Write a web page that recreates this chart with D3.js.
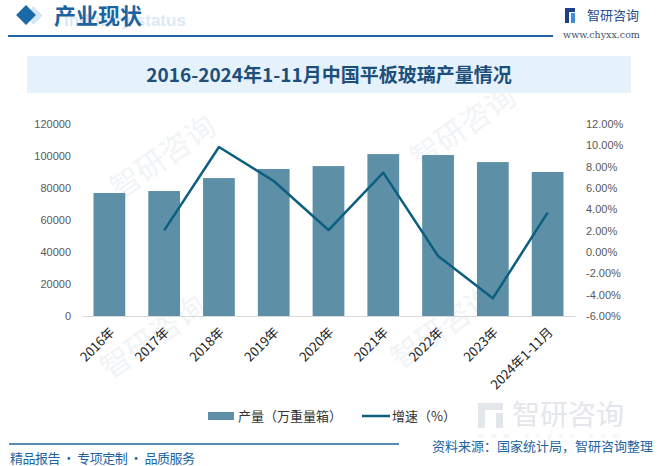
<!DOCTYPE html>
<html>
<head>
<meta charset="utf-8">
<script src="https://cdn.jsdelivr.net/npm/d3@7/dist/d3.min.js"></script>
<style>
  html, body { margin: 0; padding: 0; background: #fff; }
  svg { display: block; }
</style>
</head>
<body>
<script>
// chart data
var years = ["2016年", "2017年", "2018年", "2019年", "2020年", "2021年", "2022年", "2023年", "2024年1-11月"];
var output = [76900, 78100, 86200, 91900, 93700, 101200, 100600, 96200, 90000];   // 万重量箱
var growth = [null, 2.03, 9.84, 6.66, 2.06, 7.44, -0.38, -4.34, 3.69];            // %
var leftTicks = [0, 20000, 40000, 60000, 80000, 100000, 120000];
var rightTicks = [-6, -4, -2, 0, 2, 4, 6, 8, 10, 12];

var W = 662, H = 466;
var blue = "#1f64a0", barColor = "#5d90a7", lineColor = "#0d5f80";
var cjk = "'Noto Sans CJK SC', 'Liberation Sans', sans-serif";
var num = "'Liberation Sans', 'Noto Sans CJK SC', sans-serif";

var svg = d3.select("body").append("svg").attr("width", W).attr("height", H);

// faint watermarks
var wm = svg.append("g").attr("fill", "#f1f4f7").attr("font-family", cjk).attr("font-size", 30);
[[120, 200], [420, 170], [110, 380], [400, 370]].forEach(function(p) {
  wm.append("text").attr("transform", "translate(" + p[0] + "," + p[1] + ") rotate(-35)").text("智研咨询");
});

// header
svg.append("rect").attr("x", 27).attr("y", 9).attr("width", 13).attr("height", 13)
  .attr("transform", "rotate(45,33.5,15.5)").attr("fill", "#d6e6f4");
svg.append("rect").attr("x", 19).attr("y", 8).attr("width", 14).attr("height", 14)
  .attr("transform", "rotate(45,26,15)").attr("fill", "#1a6aa8");
svg.append("text").attr("x", 64).attr("y", 26).attr("fill", "#dce9f5")
  .attr("font-family", num).attr("font-weight", "bold").attr("font-size", 17).text("Industry status");
svg.append("text").attr("x", 54).attr("y", 24).attr("fill", "#1d63a0")
  .attr("font-family", cjk).attr("font-weight", "bold").attr("font-size", 22).text("产业现状");
svg.append("line").attr("x1", 8).attr("x2", 553).attr("y1", 36).attr("y2", 36)
  .attr("stroke", blue).attr("stroke-width", 2);

// logo top right
var logo = svg.append("g");
logo.append("rect").attr("x", 565).attr("y", 8).attr("width", 4).attr("height", 15).attr("fill", "#1f3f8a");
logo.append("rect").attr("x", 565).attr("y", 8).attr("width", 10).attr("height", 4).attr("fill", "#1f3f8a");
logo.append("rect").attr("x", 571).attr("y", 13).attr("width", 4).attr("height", 10).attr("fill", "#3b8fd8");
logo.append("text").attr("x", 587).attr("y", 20).attr("fill", "#1f4e8c")
  .attr("font-family", cjk).attr("font-size", 13).text("智研咨询");
logo.append("text").attr("x", 563).attr("y", 38).attr("fill", "#44546a")
  .attr("font-family", "'DejaVu Serif', serif").attr("font-size", 9.5).text("www.chyxx.com");

// title box
svg.append("rect").attr("x", 27).attr("y", 56).attr("width", 604).attr("height", 37).attr("fill", "#e6f2fb");
svg.append("text").attr("x", 329).attr("y", 82).attr("text-anchor", "middle").attr("fill", "#1c4f7c")
  .attr("font-family", cjk).attr("font-weight", "bold").attr("font-size", 19)
  .text("2016-2024年1-11月中国平板玻璃产量情况");

// scales
var x = d3.scaleBand().domain(years).range([82, 575]).paddingInner(0.42).paddingOuter(0.21);
var yL = d3.scaleLinear().domain([0, 120000]).range([316, 124]);
var yR = d3.scaleLinear().domain([-6, 12]).range([316, 124]);

// bars
svg.append("g").selectAll("rect").data(output).enter().append("rect")
  .attr("x", function(d, i) { return x(years[i]); })
  .attr("width", x.bandwidth())
  .attr("y", function(d) { return yL(d); })
  .attr("height", function(d) { return yL(0) - yL(d); })
  .attr("fill", barColor);

// left axis
var axL = svg.append("g").attr("transform", "translate(71,0)")
  .call(d3.axisLeft(yL).tickValues(leftTicks).tickSize(0).tickPadding(0).tickFormat(d3.format("d")));
axL.select(".domain").remove();
axL.selectAll("text").attr("fill", "#595959").attr("font-family", num).attr("font-size", 11);

// right axis
var axR = svg.append("g").attr("transform", "translate(586,0)")
  .call(d3.axisRight(yR).tickValues(rightTicks).tickSize(0).tickPadding(0)
    .tickFormat(function(d) { return d.toFixed(2) + "%"; }));
axR.select(".domain").remove();
axR.selectAll("text").attr("fill", "#595959").attr("font-family", num).attr("font-size", 11);

// x axis
var axX = svg.append("g").attr("transform", "translate(0,316)")
  .call(d3.axisBottom(x).tickSize(0).tickPadding(0));
axX.select(".domain").attr("stroke", "#d9d9d9");
axX.selectAll("text")
  .attr("fill", "#222").attr("font-family", cjk).attr("font-size", 13)
  .attr("text-anchor", "end").attr("dy", 0)
  .attr("transform", "translate(6,17) rotate(-45)");

// growth line
var line = d3.line()
  .defined(function(d) { return d !== null; })
  .x(function(d, i) { return x(years[i]) + x.bandwidth() / 2; })
  .y(function(d) { return yR(d); });
svg.append("path").datum(growth).attr("d", line)
  .attr("fill", "none").attr("stroke", lineColor).attr("stroke-width", 2.5).attr("stroke-linejoin", "round");

// legend
var lg = svg.append("g").attr("font-family", cjk).attr("font-size", 13).attr("fill", "#333");
lg.append("rect").attr("x", 208).attr("y", 412).attr("width", 26).attr("height", 8).attr("fill", barColor);
lg.append("text").attr("x", 238).attr("y", 421).text("产量（万重量箱）");
lg.append("line").attr("x1", 362).attr("x2", 390).attr("y1", 416).attr("y2", 416)
  .attr("stroke", lineColor).attr("stroke-width", 2.5);
lg.append("text").attr("x", 392).attr("y", 421).text("增速（%）");

// bottom-right watermark logo
var bw = svg.append("g").attr("fill", "#e3e6ea");
bw.append("rect").attr("x", 478).attr("y", 403).attr("width", 7).attr("height", 25);
bw.append("rect").attr("x", 478).attr("y", 403).attr("width", 25).attr("height", 7);
bw.append("rect").attr("x", 496).attr("y", 413).attr("width", 7).attr("height", 15);
bw.append("text").attr("x", 512).attr("y", 425).attr("font-family", cjk).attr("font-size", 28).text("智研咨询");
bw.append("text").attr("x", 478).attr("y", 438).attr("font-family", num).attr("font-size", 8)
  .attr("letter-spacing", 7).attr("fill", "#eceef1").text("www.chyxx.com");

// footer
svg.append("line").attr("x1", 9).attr("x2", 399).attr("y1", 444).attr("y2", 444)
  .attr("stroke", blue).attr("stroke-width", 1.5);
svg.append("text").attr("x", 10).attr("y", 463).attr("fill", "#1d63a0")
  .attr("font-family", cjk).attr("font-size", 13).attr("textLength", 185)
  .text("精品报告 · 专项定制 · 品质服务");
svg.append("text").attr("x", 653).attr("y", 451).attr("text-anchor", "end").attr("fill", "#1d63a0")
  .attr("font-family", cjk).attr("font-size", 13).text("资料来源：国家统计局，智研咨询整理");
</script>
</body>
</html>
